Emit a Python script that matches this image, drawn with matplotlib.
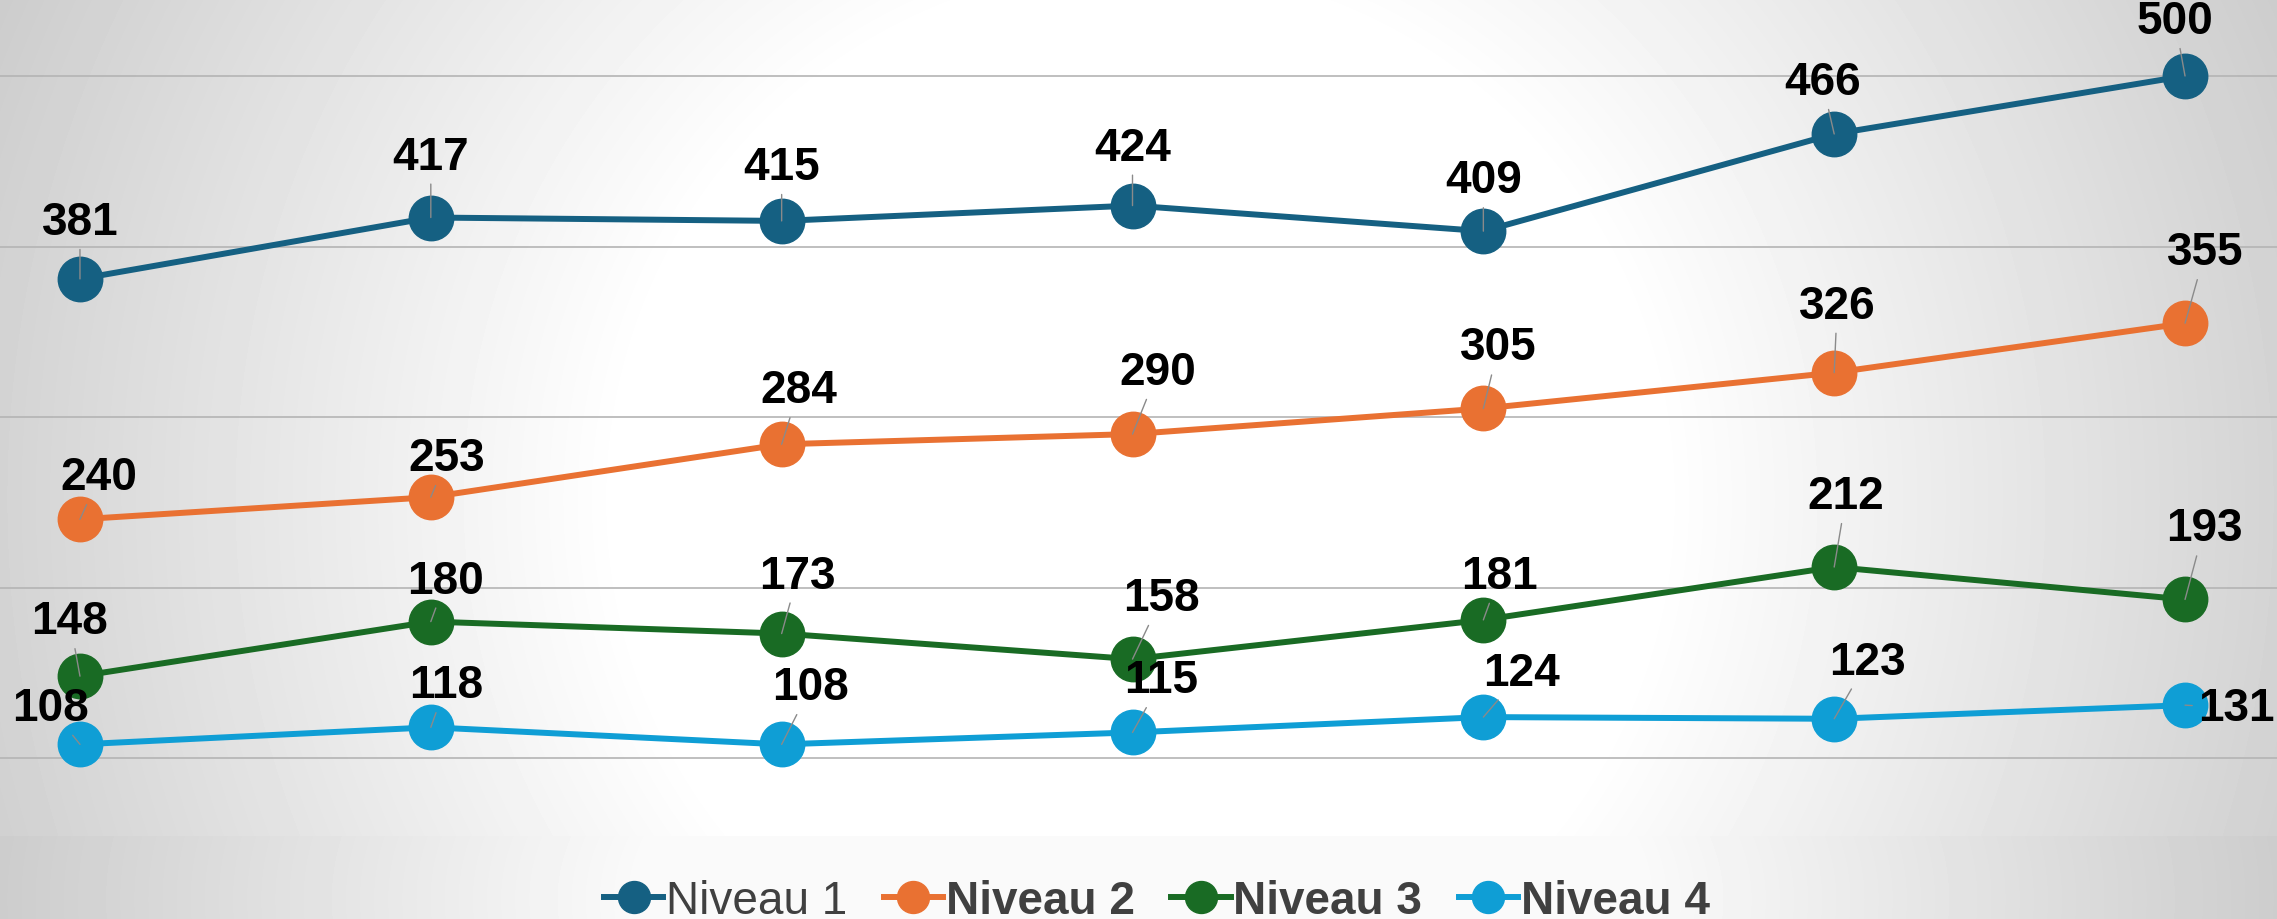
import matplotlib.pyplot as plt
from matplotlib.lines import Line2D
import numpy as np

periods = np.arange(7)
series_names = ["Niveau 1", "Niveau 2", "Niveau 3", "Niveau 4"]
niveau_1 = [381, 417, 415, 424, 409, 466, 500]
niveau_2 = [240, 253, 284, 290, 305, 326, 355]
niveau_3 = [148, 180, 173, 158, 181, 212, 193]
niveau_4 = [108, 118, 108, 115, 124, 123, 131]
series = [niveau_1, niveau_2, niveau_3, niveau_4]
colors = ["#156082", "#E97132", "#196B24", "#0F9ED5"]

# label offsets (px, y up)
label_offsets = [
    [(0, 57), (0, 61), (0, 54), (0, 58), (0, 51), (-12, 52), (-10, 55)],
    [(19, 42), (16, 39), (17, 54), (25, 62), (15, 61), (3, 67), (20, 71)],
    [(-10, 55), (15, 41), (16, 58), (29, 61), (16, 44), (12, 71), (19, 71)],
    [(-29, 36), (15, 42), (29, 57), (29, 52), (38, 44), (33, 57), (51, -3)],
]

W, H = 2277, 920
fig = plt.figure(figsize=(W / 100, H / 100), dpi=100)

# background: radial gradient in the plot area, softer one in the legend strip
yy, xx = np.mgrid[0:H, 0:W]
plot_bottom = 837
r = np.hypot(xx - 1140, yy - 500)
bg = 1 - 0.2 * np.clip((r - 520) / 730, 0, 1)
r2 = np.hypot(xx - 1140, (yy - 900) * 2)
bg2 = 0.98 - 0.18 * np.clip((r2 - 500) / 650, 0, 1)
bg[yy >= plot_bottom] = bg2[yy >= plot_bottom]
bgax = fig.add_axes([0, 0, 1, 1], zorder=0)
bgax.imshow(bg, cmap="gray", vmin=0, vmax=1, aspect="auto", extent=(0, W, H, 0))
bgax.axis("off")

ax = fig.add_axes([0, (H - plot_bottom) / H, 1, plot_bottom / H], zorder=1)
ax.patch.set_alpha(0)
px_unit = 682 / 400
ax.set_ylim(500 - (plot_bottom - 77) / px_unit, 500 + 77 / px_unit)
ax.set_xlim(-80 / 351, 6 + (W - 2185) / 351)
ax.set_yticks([100, 200, 300, 400, 500])
ax.grid(axis="y", color="#b4b4b4", linewidth=1.2)
ax.set_axisbelow(True)
ax.tick_params(left=False, bottom=False, labelleft=False, labelbottom=False)
for s in ax.spines.values():
    s.set_visible(False)

for vals, col, offs in zip(series, colors, label_offsets):
    ax.plot(periods, vals, color=col, linewidth=4.3, marker="o",
            markersize=32, zorder=3)
    for x, v, (dx, dy) in zip(periods, vals, offs):
        ax.annotate(str(v), (x, v), xytext=(dx, dy), textcoords="offset pixels",
                    ha="center", va="center", fontsize=33, fontweight="bold",
                    family="Liberation Sans", color="black", zorder=5,
                    arrowprops=dict(arrowstyle="-", color="#8a8a8a", lw=1.0,
                                    shrinkA=2, shrinkB=0))

handles = [Line2D([], [], color=c, linewidth=4.3, marker="o", markersize=23)
           for c in colors]
leg = fig.legend(handles, series_names, loc="center", bbox_to_anchor=(0.508, 0.02),
                 ncol=4, frameon=False, handlelength=1.3, handletextpad=0.05,
                 columnspacing=0.8, prop={"family": "Liberation Sans", "size": 33})
for i, t in enumerate(leg.get_texts()):
    t.set_color("#404040")
    if i > 0:
        t.set_fontweight("bold")

fig.savefig("out.png", dpi=100)
